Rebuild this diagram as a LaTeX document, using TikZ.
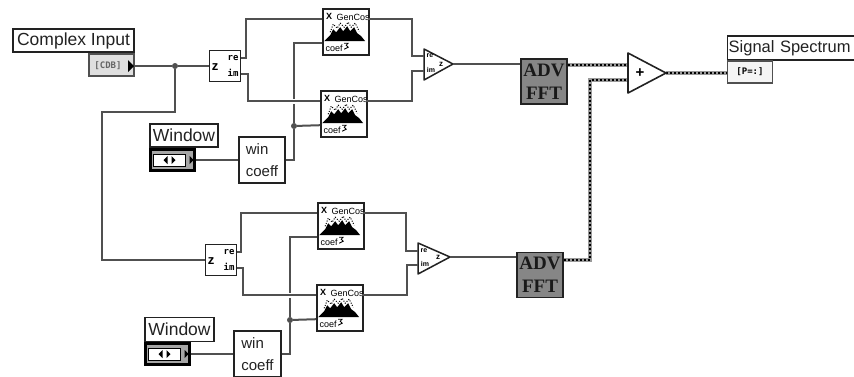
\documentclass[tikz,border=0pt]{standalone}
\usepackage{fontspec}
\usepackage{tikz}
\usepackage{xcolor}
\usetikzlibrary{calc}
\setmainfont{Liberation Sans}
\setmonofont{DejaVu Sans Mono}
\newfontfamily\advfont{Liberation Serif}
\definecolor{wiregray}{HTML}{505050}
\definecolor{inkgray}{HTML}{222222}
\tikzset{
  wire/.style={draw=wiregray,line width=2pt},
  haloed/.style={preaction={draw=white,line width=5pt}},
  bundle/.style={draw=gray!80,line width=3.6pt,postaction={draw=black,line width=2.6pt,dash pattern=on 2pt off 2pt}},
  jdot/.style={circle,fill=wiregray,inner sep=0pt,minimum size=6pt},
  lblbox/.style={draw=inkgray,line width=1.4pt,fill=white,inner sep=0pt,text=inkgray,font=\fontsize{17.5}{20}\selectfont},
  blockbox/.style={draw=inkgray,line width=1.6pt,fill=white,inner sep=0pt,minimum width=46pt,minimum height=46pt},
  zbox/.style={draw=inkgray,line width=1.5pt,fill=white,inner sep=0pt,minimum width=31pt,minimum height=31pt},
  advbox/.style={draw=inkgray,line width=1.4pt,fill=gray!95,inner sep=0pt,minimum width=46pt,minimum height=45pt,align=center,font=\advfont\bfseries\fontsize{19}{23}\selectfont,text=black!90},
  tinytxt/.style={inner sep=0pt,text=black,font=\fontsize{9}{9}\selectfont},
  monotxt/.style={inner sep=0pt,text=black,font=\ttfamily\bfseries\fontsize{9}{9}\selectfont},
  termbox/.style={draw=wiregray,line width=1.4pt,inner sep=0pt,minimum width=45pt,minimum height=22pt}
}
\begin{document}
\begin{tikzpicture}[x=1pt,y=-1pt]
\useasboundingbox (0,0) rectangle (854,376);
\clip (0,0) rectangle (854,376);
\fill[white] (0,0) rectangle (854,376);

\node[lblbox,minimum width=121pt,minimum height=23pt] (lblIn) at (73.5,40.5) {Complex Input};
\node[termbox,fill=gray!25] (inTerm) at (111.5,65) {};
\node[monotxt,text=gray!80!black] (inTxt) at (108,66) {[CDB]};
\fill[black] (128,60) -- (134,66) -- (128,72) -- cycle;
\coordinate (inOut) at (134,66);

\node[lblbox,font=\fontsize{16.5}{20}\selectfont,minimum width=135pt,minimum height=24pt,anchor=west,text width=133pt] (lblOut) at (727,48) {Signal Spectrum};
\node[termbox,fill=gray!8] (outTerm) at (750,72) {};
\node[monotxt] (outTxt) at (750,72) {[P=:]};
\coordinate (outIn) at (727,73);

\foreach \w/\x/\y in {A/172.5/160,B/167.5/354}{
  \node[draw=black,line width=2.4pt,fill=gray!70,inner sep=0pt,minimum width=44pt,minimum height=21pt] (wn\w) at (\x,\y) {};
  \draw[draw=black,line width=1pt,fill=white] ($(wn\w.west)+(4,-6)$) rectangle ($(wn\w.east)+(-10,6)$);
  \fill[black] ($(wn\w.center)+(-5,-4)$) -- ($(wn\w.center)+(-9,0)$) -- ($(wn\w.center)+(-5,4)$) -- cycle;
  \fill[black] ($(wn\w.center)+(-1,-4)$) -- ($(wn\w.center)+(3,0)$) -- ($(wn\w.center)+(-1,4)$) -- cycle;
  \fill[black] ($(wn\w.east)+(-6,-4)$) -- ($(wn\w.east)+(-2,0)$) -- ($(wn\w.east)+(-6,4)$) -- cycle;
}
\node[lblbox,minimum width=68pt,minimum height=23pt] (lblWnA) at (184,135.5) {Window};
\node[lblbox,minimum width=69pt,minimum height=24pt] (lblWnB) at (179.5,329.5) {Window};

\node[zbox] (zA) at (225,66) {};
\node[zbox] (zB) at (221,260) {};
\foreach \z in {A,B}{
  \node[inner sep=0pt,font=\bfseries\fontsize{13}{13}\selectfont] (zT\z) at ($(z\z.center)+(-10,1)$) {z};
  \node[monotxt] (zR\z) at ($(z\z.center)+(8,-8)$) {re};
  \node[monotxt] (zI\z) at ($(z\z.center)+(8,7)$) {im};
  \coordinate (z\z-re) at ($(z\z.east)+(0,-8)$);
  \coordinate (z\z-im) at ($(z\z.east)+(0,8)$);
}

\node[blockbox] (gcA) at (346,32) {};
\node[blockbox] (gcB) at (344,114) {};
\node[blockbox] (gcC) at (341,226) {};
\node[blockbox] (gcD) at (340,308) {};
\foreach \g in {A,B,C,D}{
  \begin{scope}[shift={(gc\g.north west)}]
    \fill[black] (2,33) -- (8,27) -- (11,21) -- (14,24) -- (18,19) -- (21,23) -- (25,18) -- (28,23) -- (32,19) -- (35,25) -- (39,28) -- (43,33) -- cycle;
    \draw[black,line width=1pt,dash pattern=on 1pt off 1.5pt] (8,24) -- (11,16) -- (15,20) -- (18,15) -- (22,19) -- (26,14) -- (29,19) -- (33,15) -- (37,23);
    \draw[black,line width=.8pt] (22,35) -- (26,35) -- (24,37) -- (26,39) -- (22,41);
    \node[inner sep=0pt,font=\bfseries\fontsize{9}{9}\selectfont] (gc\g-x) at (7,8) {X};
    \node[tinytxt] (gc\g-t) at (31,9) {GenCos};
    \node[tinytxt] (gc\g-c) at (12,40) {coef};
    \coordinate (gc\g-in) at (0,11);
    \coordinate (gc\g-coef) at (0,35);
    \coordinate (gc\g-out) at (46,11);
  \end{scope}
}

\node[lblbox,minimum width=46pt,minimum height=46pt,align=left,font=\fontsize{15}{22}\selectfont] (wcA) at (262,160) {win\\coeff};
\node[lblbox,minimum width=47pt,minimum height=46pt,align=left,font=\fontsize{15}{22}\selectfont] (wcB) at (257.5,354) {win\\coeff};

\coordinate (cxAa) at (424,49);
\coordinate (cxAb) at (424,80);
\coordinate (cxA-out) at (453,64);
\coordinate (cxA-re) at (424,56);
\coordinate (cxA-im) at (424,71);
\coordinate (cxBa) at (418,243);
\coordinate (cxBb) at (418,274);
\coordinate (cxB-out) at (450,257);
\coordinate (cxB-re) at (418,251);
\coordinate (cxB-im) at (418,265);
\foreach \c in {A,B}{
  \draw[draw=inkgray,line width=1.5pt,fill=white,line join=round] (cx\c a) -- (cx\c-out) -- (cx\c b) -- cycle;
  \node[tinytxt,font=\bfseries\fontsize{7}{7}\selectfont] (cxR\c) at ($(cx\c-re)+(6,0)$) {re};
  \node[tinytxt,font=\bfseries\fontsize{7}{7}\selectfont] (cxI\c) at ($(cx\c-im)+(7,-1)$) {im};
  \node[tinytxt,font=\bfseries\fontsize{8}{8}\selectfont] (cxZ\c) at ($(cx\c-out)+(-12,0)$) {z};
}

\node[advbox] (fftA) at (544,81.5) {ADV\\FFT};
\node[advbox] (fftB) at (540,275) {ADV\\FFT};

\coordinate (sumA) at (628,53);
\coordinate (sumB) at (628,93);
\coordinate (sumOut) at (666,73);
\coordinate (sumInA) at (628,65);
\coordinate (sumInB) at (628,80);

\node[jdot] (jIn) at (175,66) {};
\node[jdot] (jWnA) at (294,126) {};
\node[jdot] (jWnB) at (290,320) {};
\coordinate (bendA) at (102,112);
\coordinate (bendB) at (102,260);

\draw[wire] (inOut) -- (jIn);
\draw[wire] (jIn) -- (zA.west);
\draw[wire] (jIn) |- (bendA) -- (bendB) -- (zB.west);

\draw[wire] (wnA.east) -- (wcA.west |- wnA.east);
\draw[wire] (wnB.east) -- (wcB.west |- wnB.east);
\draw[wire] (wcA.east) -| (jWnA);
\draw[wire] (wcB.east) -| (jWnB);
\draw[wire] (jWnA) |- (gcA-coef);
\draw[wire] (jWnB) |- (gcC-coef);
\draw[wire] (jWnA) -- (gcB-coef);
\draw[wire] (jWnB) -- (gcD-coef);

\draw[wire] (zA-re) -- ++(5,0) |- (gcA-in);
\draw[wire,haloed] (zA-im) -- ++(7,0) |- (gcB-in);
\draw[wire] (zB-re) -- ++(4,0) |- (gcC-in);
\draw[wire,haloed] (zB-im) -- ++(6,0) |- (gcD-in);

\draw[wire] (gcA-out) -- ++(44,0) |- (cxA-re);
\draw[wire] (gcB-out) -- ++(46,0) |- (cxA-im);
\draw[wire] (gcC-out) -- ++(43,0) |- (cxB-re);
\draw[wire] (gcD-out) -- ++(45,0) |- (cxB-im);

\draw[wire] (cxA-out) -- (fftA.west |- cxA-out);
\draw[wire] (cxB-out) -- (fftB.west |- cxB-out);

\draw[bundle] (fftA.east |- sumInA) -- (sumInA);
\draw[bundle] (fftB.east |- 0,260) -| (590,80) -- (sumInB);
\draw[bundle] (sumOut) -- (outIn);

\draw[draw=inkgray,line width=1.6pt,fill=white,line join=round] (sumA) -- (sumOut) -- (sumB) -- cycle;
\node[inner sep=0pt,font=\bfseries\fontsize{15}{15}\selectfont] (sumTxt) at (640,73) {+};
\end{tikzpicture}
\end{document}
